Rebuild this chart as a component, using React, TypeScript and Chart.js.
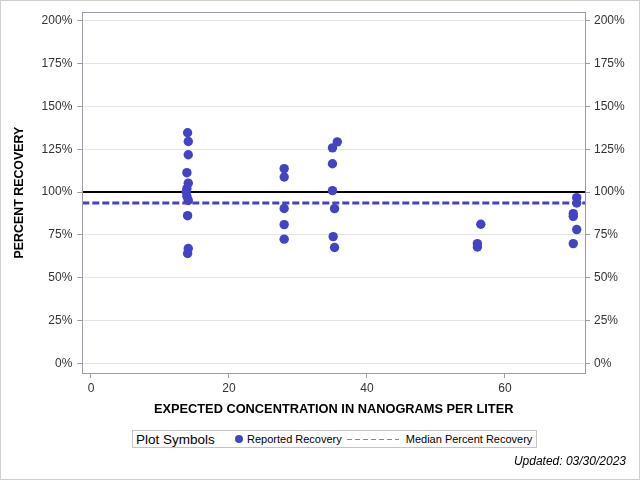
import React, { useEffect, useRef } from "react";
import { Chart, registerables, Plugin } from "chart.js";

Chart.register(...registerables);

// Reported recovery samples (expected concentration, ng/L  ->  percent recovery)
const expectedConc = [
  14, 14.1, 14.1, 13.9, 14.1, 13.9, 13.8, 13.9, 14.1, 14, 14.1, 14,
  28, 28, 28, 28, 28,
  35, 35.7, 35, 35, 35.3, 35.1, 35.3,
  56.5, 56, 56,
  70.4, 70.4, 69.9, 69.9, 70.4, 69.9,
];
const percentRecovery = [
  134.6, 129.5, 121.8, 111.3, 105.2, 102, 100, 97.5, 95.1, 86.2, 67, 64.1,
  113.7, 108.8, 90.4, 81, 72.5,
  125.8, 129.3, 116.5, 100.8, 90.3, 74, 67.6,
  81.2, 69.9, 67.9,
  96.7, 93.6, 87.4, 85.8, 78.1, 69.9,
];
const medianRecovery = 93.6;
const targetRecovery = 100;

const xTicks = [0, 20, 40, 60];
const yTicks = [0, 25, 50, 75, 100, 125, 150, 175, 200];
const xRange = [-1.26, 71.6];
const yRange = [-5.65, 205];

const FONT = "'Liberation Sans', Arial, sans-serif";
const DOT = "#4343c3";

// draws plot frame and the outer border
const framePlugin: Plugin = {
  id: "frame",
  beforeDraw(chart) {
    const { ctx, width, height } = chart;
    ctx.save();
    ctx.fillStyle = "#fff";
    ctx.fillRect(0, 0, width, height);
    ctx.strokeStyle = "#d0d0d0";
    ctx.lineWidth = 1;
    ctx.strokeRect(0.5, 0.5, width - 1, height - 1);
    ctx.restore();
  },
  afterDraw(chart) {
    const { ctx, chartArea: a } = chart;
    ctx.save();
    ctx.strokeStyle = "#9a9ea4";
    ctx.lineWidth = 1;
    ctx.strokeRect(Math.round(a.left) + 0.5, Math.round(a.top) + 0.5, Math.round(a.right - a.left), Math.round(a.bottom - a.top));
    ctx.restore();
  },
};

const App: React.FC = () => {
  const canvasRef = useRef<HTMLCanvasElement | null>(null);

  useEffect(() => {
    const ctx = canvasRef.current?.getContext("2d");
    if (!ctx) return;

    const points = expectedConc.map((x, i) => ({ x, y: percentRecovery[i] }));

    const chart = new Chart(ctx, {
      type: "scatter",
      data: {
        datasets: [
          {
            label: "Reported Recovery",
            data: points,
            backgroundColor: DOT,
            borderWidth: 0,
            pointRadius: 4.7,
            order: 0,
          },
          {
            type: "line",
            label: "Target",
            data: [
              { x: xRange[0], y: targetRecovery },
              { x: xRange[1], y: targetRecovery },
            ],
            borderColor: "#000",
            borderWidth: 2,
            pointRadius: 0,
            order: 2,
          },
          {
            type: "line",
            label: "Median Percent Recovery",
            data: [
              { x: xRange[0], y: medianRecovery },
              { x: xRange[1], y: medianRecovery },
            ],
            borderColor: DOT,
            borderWidth: 3,
            borderDash: [7, 3],
            pointRadius: 0,
            order: 1,
          },
        ],
      },
      options: {
        responsive: false,
        animation: false,
        layout: { padding: { left: 12, right: 0, top: 11.5, bottom: 63.2 } },
        plugins: {
          legend: { display: false },
          tooltip: { enabled: false },
        },
        scales: {
          x: {
            type: "linear",
            min: xRange[0],
            max: xRange[1],
            afterBuildTicks: (axis) => {
              axis.ticks = xTicks.map((value) => ({ value }));
            },
            afterFit: (axis) => {
              axis.height = 43.8;
            },
            grid: { drawOnChartArea: false, drawTicks: true, tickLength: 5, tickColor: "#9a9ea4" },
            border: { display: true, color: "#9a9ea4" },
            ticks: { padding: 3, color: "#333", font: { family: FONT, size: 12 } },
            title: {
              display: true,
              text: "EXPECTED CONCENTRATION IN NANOGRAMS PER LITER",
              color: "#000",
              padding: 0,
              font: { family: FONT, size: 12.8, weight: "bold" },
            },
          },
          y: {
            type: "linear",
            position: "left",
            min: yRange[0],
            max: yRange[1],
            afterBuildTicks: (axis) => {
              axis.ticks = yTicks.map((value) => ({ value }));
            },
            afterFit: (axis) => {
              axis.width = 70.3;
            },
            grid: { color: "#e4e4e4", tickLength: 5, tickColor: "#9a9ea4" },
            border: { display: true, color: "#9a9ea4" },
            ticks: {
              padding: 5,
              color: "#333",
              font: { family: FONT, size: 12 },
              callback: (v) => `${v}%`,
            },
            title: {
              display: true,
              text: "PERCENT RECOVERY",
              color: "#000",
              padding: 0,
              font: { family: FONT, size: 12.4, weight: "bold" },
            },
          },
          y2: {
            type: "linear",
            position: "right",
            min: yRange[0],
            max: yRange[1],
            afterBuildTicks: (axis) => {
              axis.ticks = yTicks.map((value) => ({ value }));
            },
            afterFit: (axis) => {
              axis.width = 55;
            },
            grid: { drawOnChartArea: false, tickLength: 5, tickColor: "#9a9ea4" },
            border: { display: true, color: "#9a9ea4" },
            ticks: {
              padding: 4,
              color: "#333",
              font: { family: FONT, size: 12 },
              callback: (v) => `${v}%`,
            },
          },
        },
      },
      plugins: [framePlugin],
    });

    return () => {
      chart.destroy();
    };
  }, []);

  return (
    <div style={{ position: "absolute", left: 0, top: 0, width: 640, height: 480, fontFamily: FONT }}>
      <canvas ref={canvasRef} width={640} height={480} />
      {/* legend box */}
      <div
        style={{
          position: "absolute",
          left: 132,
          top: 430,
          width: 403,
          height: 16,
          border: "1px solid #c4c4c4",
          background: "#fff",
          display: "flex",
          alignItems: "center",
          whiteSpace: "nowrap",
          color: "#000",
        }}
      >
        <span style={{ fontSize: 13.5, marginLeft: 3, width: 98 }}>Plot Symbols</span>
        <span
          style={{ display: "inline-block", width: 8, height: 8, borderRadius: 4, background: DOT, marginLeft: 1 }}
        />
        <span style={{ fontSize: 11, marginLeft: 4 }}>Reported Recovery</span>
        <svg width={52} height={3} style={{ marginLeft: 5 }}>
          <line x1={0} y1={1.5} x2={52} y2={1.5} stroke="#7c7ce6" strokeWidth={1} strokeDasharray="5,3" />
        </svg>
        <span style={{ fontSize: 11, marginLeft: 7 }}>Median Percent Recovery</span>
      </div>
      <div
        style={{
          position: "absolute",
          right: 14,
          top: 454,
          fontSize: 12,
          fontStyle: "italic",
          color: "#000",
        }}
      >
        Updated: 03/30/2023
      </div>
    </div>
  );
};

export default App;
